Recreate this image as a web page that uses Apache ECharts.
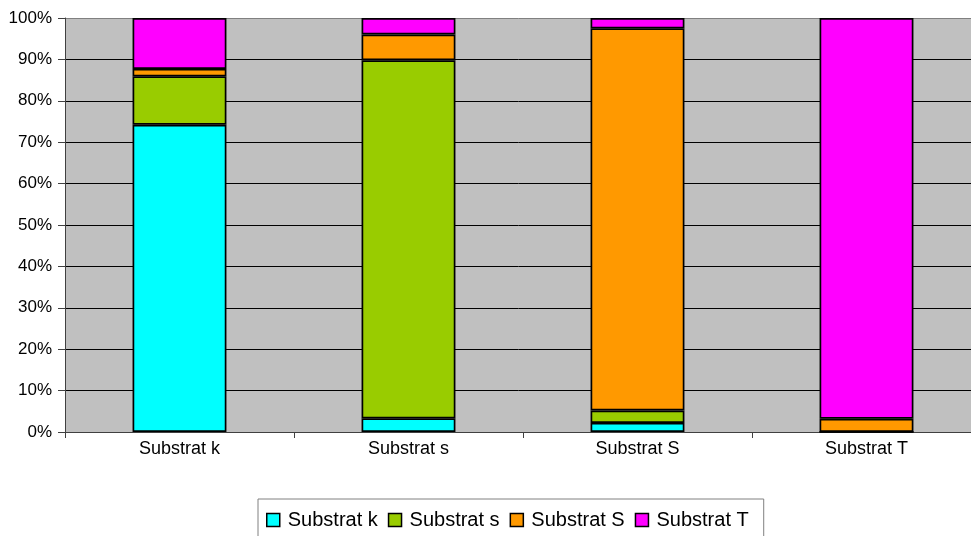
<!DOCTYPE html>
<html>
<head>
<meta charset="utf-8">
<script src="https://cdn.jsdelivr.net/npm/echarts@6/dist/echarts.min.js"></script>
<style>html,body{margin:0;padding:0;background:#fff}#c{width:971px;height:536px}</style>
</head>
<body>
<div id="c"></div>
<script>
const categories = ['Substrat k', 'Substrat s', 'Substrat S', 'Substrat T'];
const seriesNames = ['Substrat k', 'Substrat s', 'Substrat S', 'Substrat T'];
const seriesColors = ['#00FFFF', '#99CC00', '#FF9900', '#FF00FF'];
const valuesK = [74.2, 3.3, 2.2, 0];
const valuesSmallS = [11.7, 86.5, 3.0, 0];
const valuesBigS = [1.8, 6.2, 92.3, 3.2];
const valuesT = [12.3, 4.0, 2.5, 96.8];
const allValues = [valuesK, valuesSmallS, valuesBigS, valuesT];

const font = '"Liberation Sans", Arial, sans-serif';
const chart = echarts.init(document.getElementById('c'), null, {renderer: 'canvas'});
const splitColors = ['#000','#000','#000','#000','#000','#000','#000','#000','#000','#000','#808080'];
chart.setOption({
  animation: false,
  backgroundColor: '#ffffff',
  grid: {left: 65, top: 18, width: 916, height: 414, show: true, backgroundColor: '#C0C0C0', borderWidth: 0,
         containLabel: false, outerBoundsMode: 'none'},
  legend: {
    left: 258, top: 499,
    padding: [11, 15, 10, 8],
    borderColor: '#808080', borderWidth: 1,
    icon: 'rect', itemWidth: 13, itemHeight: 13, itemGap: 10,
    itemStyle: {borderColor: '#000', borderWidth: 1.5},
    textStyle: {fontFamily: font, fontSize: 20, color: '#000', padding: [0, 0, 0, 3]},
    data: seriesNames
  },
  xAxis: {
    type: 'category', data: categories,
    axisLine: {lineStyle: {color: '#404040', width: 1}},
    axisTick: {show: true, length: 6, lineStyle: {color: '#404040'}},
    axisLabel: {fontFamily: font, fontSize: 18, color: '#000', margin: 8},
    splitLine: {show: false}
  },
  yAxis: {
    type: 'value', min: 0, max: 100, interval: 10,
    axisLine: {show: true, lineStyle: {color: '#404040', width: 1}},
    axisTick: {show: true, length: 7, lineStyle: {color: '#404040'}},
    axisLabel: {fontFamily: font, fontSize: 17, color: '#000', margin: 13, formatter: '{value}%'},
    splitLine: {show: true, lineStyle: {color: splitColors, width: 1}}
  },
  series: seriesNames.map((n, i) => ({
    name: n, type: 'bar', stack: 'total', barWidth: '41%',
    data: allValues[i],
    itemStyle: {color: seriesColors[i], borderColor: '#000', borderWidth: 1.7}
  }))
});
</script>
</body>
</html>
